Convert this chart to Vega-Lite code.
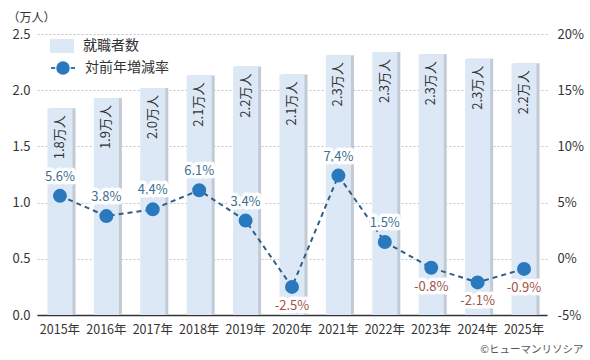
{
  "$schema": "https://vega.github.io/schema/vega-lite/v6.json",
  "width": 510,
  "height": 281,
  "autosize": {"type": "none"},
  "padding": {"left": 37, "top": 34, "right": 43, "bottom": 45},
  "background": "white",
  "config": {
    "font": "Noto Sans CJK JP",
    "view": {"stroke": null},
    "axis": {"labelFont": "Noto Sans CJK JP", "titleFont": "Noto Sans CJK JP"},
    "legend": {"labelFont": "Noto Sans CJK JP"}
  },
  "title": {
    "text": "©ヒューマンリソシア",
    "orient": "bottom",
    "anchor": "end",
    "fontSize": 10.5,
    "fontWeight": "normal",
    "color": "#555555",
    "offset": 9
  },
  "data": {
    "values": [
      {"year": 2015, "workers": 1.84, "workers_label": "1.8万人", "pct": 5.6, "pct_label": "5.6%"},
      {"year": 2016, "workers": 1.93, "workers_label": "1.9万人", "pct": 3.8, "pct_label": "3.8%"},
      {"year": 2017, "workers": 2.02, "workers_label": "2.0万人", "pct": 4.4, "pct_label": "4.4%"},
      {"year": 2018, "workers": 2.13, "workers_label": "2.1万人", "pct": 6.1, "pct_label": "6.1%"},
      {"year": 2019, "workers": 2.21, "workers_label": "2.2万人", "pct": 3.4, "pct_label": "3.4%"},
      {"year": 2020, "workers": 2.14, "workers_label": "2.1万人", "pct": -2.5, "pct_label": "-2.5%"},
      {"year": 2021, "workers": 2.31, "workers_label": "2.3万人", "pct": 7.4, "pct_label": "7.4%"},
      {"year": 2022, "workers": 2.34, "workers_label": "2.3万人", "pct": 1.5, "pct_label": "1.5%"},
      {"year": 2023, "workers": 2.32, "workers_label": "2.3万人", "pct": -0.8, "pct_label": "-0.8%"},
      {"year": 2024, "workers": 2.28, "workers_label": "2.3万人", "pct": -2.1, "pct_label": "-2.1%"},
      {"year": 2025, "workers": 2.24, "workers_label": "2.2万人", "pct": -0.9, "pct_label": "-0.9%"}
    ]
  },
  "encoding": {
    "x": {
      "field": "year",
      "type": "ordinal",
      "scale": {"paddingInner": 0.46, "paddingOuter": 0.225},
      "axis": {
        "title": null,
        "labelAngle": 0,
        "labelExpr": "datum.label + '年'",
        "labelFontSize": 12.5,
        "labelColor": "#333333",
        "labelPadding": 8,
        "ticks": false,
        "tickSize": 0,
        "domainColor": "#333333",
        "domainWidth": 1.6,
        "grid": false
      }
    }
  },
  "layer": [
    {
      "encoding": {
        "y": {
          "field": "workers",
          "type": "quantitative",
          "scale": {"domain": [0, 2.5], "nice": false, "zero": true},
          "axis": {
            "orient": "left",
            "values": [0, 0.5, 1, 1.5, 2, 2.5],
            "format": ".1f",
            "title": "（万人）",
            "titleAngle": 0,
            "titleAlign": "left",
            "titleBaseline": "middle",
            "titleX": -30,
            "titleY": -17,
            "titleFontSize": 12,
            "titleFontWeight": "normal",
            "titleColor": "#333333",
            "labelFontSize": 13,
            "labelColor": "#333333",
            "labelPadding": 7,
            "ticks": false,
            "tickSize": 0,
            "domain": false,
            "grid": true,
            "gridDash": [2, 2],
            "gridColor": "#c4c4c4",
            "gridWidth": 1
          }
        }
      },
      "layer": [
        {
          "mark": {"type": "bar", "color": "#c2cbd5", "xOffset": 3}
        },
        {
          "mark": {"type": "bar"},
          "encoding": {
            "fill": {
              "datum": "就職者数",
              "scale": {"range": ["#dce8f5"]},
              "legend": {
                "orient": "none",
                "legendX": 13,
                "legendY": 0,
                "title": null,
                "padding": 0,
                "symbolType": "M-1,-0.58H1V0.58H-1Z",
                "symbolSize": 576,
                "symbolStrokeWidth": 0,
                "labelFontSize": 14,
                "labelColor": "#333333",
                "labelOffset": 9
              }
            }
          }
        },
        {
          "mark": {
            "type": "text",
            "angle": 270,
            "align": "right",
            "baseline": "middle",
            "dx": -7,
            "fontSize": 13,
            "color": "#333333"
          },
          "encoding": {"text": {"field": "workers_label"}}
        }
      ]
    },
    {
      "encoding": {
        "y": {
          "field": "pct",
          "type": "quantitative",
          "scale": {"domain": [-5, 20], "nice": false, "zero": false},
          "axis": {
            "orient": "right",
            "values": [-5, 0, 5, 10, 15, 20],
            "labelExpr": "datum.value + '%'",
            "title": null,
            "labelFontSize": 13,
            "labelColor": "#333333",
            "labelPadding": 10,
            "ticks": false,
            "tickSize": 0,
            "domain": false,
            "grid": false
          }
        }
      },
      "layer": [
        {
          "mark": {"type": "line", "color": "#2f5f88", "strokeWidth": 2, "strokeDash": [5, 4]}
        },
        {
          "mark": {"type": "point", "filled": true, "opacity": 1, "color": "#2a79bf", "size": 144},
          "encoding": {
            "stroke": {
              "datum": "対前年増減率",
              "scale": {"range": ["#2a79bf"]},
              "legend": {
                "orient": "none",
                "legendX": 13,
                "legendY": 21,
                "title": null,
                "padding": 0,
                "symbolType": "M-1,0H-0.65M0.65,0H1M0.48,0A0.48,0.48 0 1 1 -0.48,0A0.48,0.48 0 1 1 0.48,0Z",
                "symbolSize": 576,
                "symbolFillColor": "#2a79bf",
                "symbolStrokeWidth": 2,
                "symbolOpacity": 1,
                "labelFontSize": 14,
                "labelColor": "#333333",
                "labelOffset": 9
              }
            }
          }
        },
        {
          "transform": [{"filter": "datum.pct >= 0"}],
          "mark": {"type": "text", "dy": -19, "fontSize": 13, "color": "white", "stroke": "white", "strokeWidth": 7, "strokeJoin": "round"},
          "encoding": {"text": {"field": "pct_label"}}
        },
        {
          "transform": [{"filter": "datum.pct >= 0"}],
          "mark": {"type": "text", "dy": -19, "fontSize": 13, "color": "#3d6f93"},
          "encoding": {"text": {"field": "pct_label"}}
        },
        {
          "transform": [{"filter": "datum.pct < 0"}],
          "mark": {"type": "text", "dy": 19, "fontSize": 13, "color": "white", "stroke": "white", "strokeWidth": 7, "strokeJoin": "round"},
          "encoding": {"text": {"field": "pct_label"}}
        },
        {
          "transform": [{"filter": "datum.pct < 0"}],
          "mark": {"type": "text", "dy": 19, "fontSize": 13, "color": "#a3504a"},
          "encoding": {"text": {"field": "pct_label"}}
        }
      ]
    }
  ],
  "resolve": {"scale": {"y": "independent", "fill": "independent", "stroke": "independent"}}
}
